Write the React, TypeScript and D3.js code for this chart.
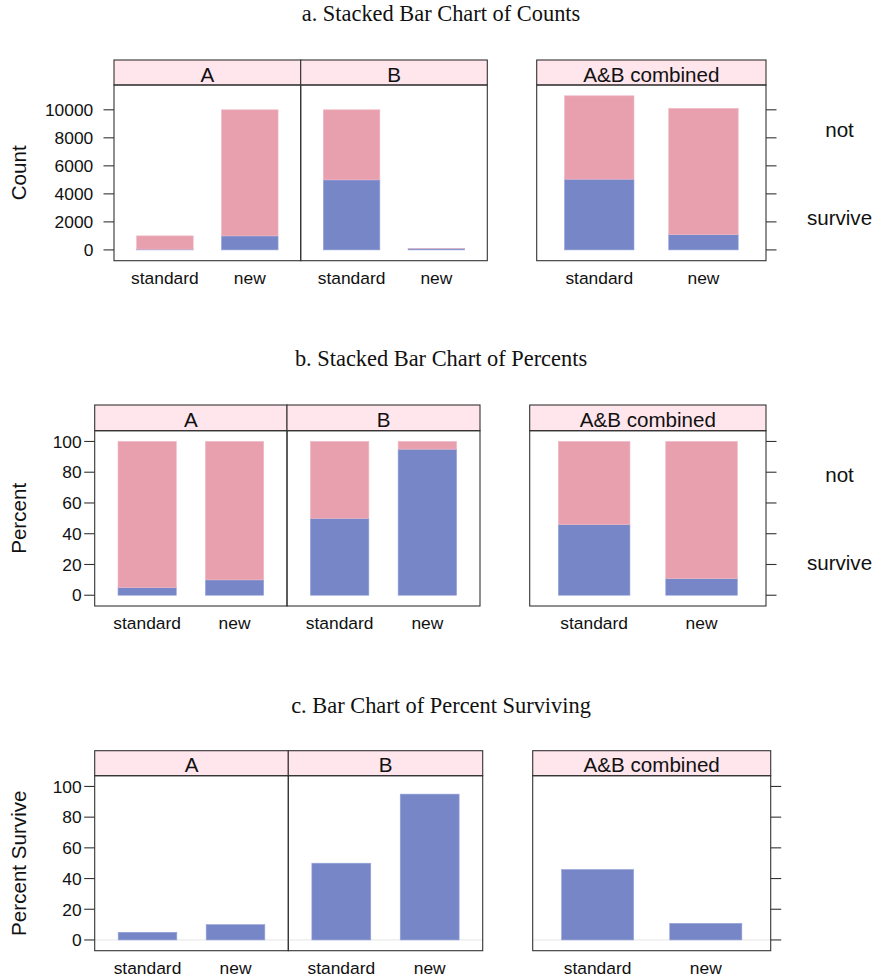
import React from "react";
import * as d3 from "d3";

// ---------- data ----------
const hospitals = ["A", "B"];
const combinedLabel = "A&B combined";
const treatments = ["standard", "new"];
// counts per hospital (rows) x treatment (cols)
const surviveCounts = [
  [50, 1000],
  [5000, 95],
];
const notCounts = [
  [950, 9000],
  [5000, 5],
];
const statusLabels = ["survive", "not"];
const countTicks = [0, 2000, 4000, 6000, 8000, 10000];
const percentTicks = [0, 20, 40, 60, 80, 100];
const titles = [
  "a. Stacked Bar Chart of Counts",
  "b. Stacked Bar Chart of Percents",
  "c. Bar Chart of Percent Surviving",
];
const yTitles = ["Count", "Percent", "Percent Survive"];

// ---------- derived tables ----------
const panelNames = [...hospitals, combinedLabel];
const survAll = [
  ...surviveCounts,
  treatments.map((_, j) => d3.sum(surviveCounts, (r) => r[j])),
];
const notAll = [
  ...notCounts,
  treatments.map((_, j) => d3.sum(notCounts, (r) => r[j])),
];
const countStack = survAll.map((row, i) => row.map((s, j) => [s, notAll[i][j]]));
const pctStack = countStack.map((row) =>
  row.map(([s, n]) => [(100 * s) / (s + n), (100 * n) / (s + n)])
);
const pctSurvive = pctStack.map((row) => row.map(([s]) => [s]));

// ---------- style ----------
const W = 876;
const H = 980;
const PINK = "#E8A0AF";
const BLUE = "#7686C7";
const PINK_EDGE = "#F0B8C4";
const BLUE_EDGE = "#98A4DA";
const FRAME = "#333333";
const STRIP = "#FFE5EC";
const SANS = "'Liberation Sans', Arial, Helvetica, sans-serif";
const SERIF = "'Liberation Serif', 'Times New Roman', serif";
const BIG = 20.6;
const SMALL = 17.4;

type Layout = {
  titleY: number;
  stripTop: number;
  stripBot: number;
  panelBot: number;
  panels: number[][];
  labelEnd: number;
  tickLen: number;
  legendY?: number[];
  refLine?: boolean;
};

const layouts: Layout[] = [
  {
    titleY: 21,
    stripTop: 60,
    stripBot: 85,
    panelBot: 260.7,
    panels: [
      [114, 300.7],
      [300.7, 487.3],
      [536.7, 766],
    ],
    labelEnd: 93.3,
    tickLen: 10.5,
    legendY: [225, 137.3],
  },
  {
    titleY: 366,
    stripTop: 405,
    stripBot: 430.7,
    panelBot: 606,
    panels: [
      [94.7, 287],
      [287, 480],
      [529.7, 766],
    ],
    labelEnd: 81.7,
    tickLen: 10.5,
    legendY: [570, 481.7],
  },
  {
    titleY: 713,
    stripTop: 750.7,
    stripBot: 775.7,
    panelBot: 950.7,
    panels: [
      [94.7, 288.3],
      [288.3, 482.7],
      [532.7, 770.7],
    ],
    labelEnd: 81.7,
    tickLen: 10.5,
    refLine: true,
  },
];

function Section({
  layout,
  data,
  ymax,
  ticks,
  title,
  yTitle,
}: {
  layout: Layout;
  data: number[][][];
  ymax: number;
  ticks: number[];
  title: string;
  yTitle: string;
}) {
  const y = d3
    .scaleLinear()
    .domain([-0.07 * ymax, 1.07 * ymax])
    .range([layout.panelBot, layout.stripBot]);
  const left = layout.panels[0][0];
  const right = layout.panels[layout.panels.length - 1][1];
  const colors = [BLUE, PINK];
  const edges = [BLUE_EDGE, PINK_EDGE];
  const midY = (layout.stripBot + layout.panelBot) / 2;
  return (
    <g>
      <text
        x={441}
        y={layout.titleY}
        textAnchor="middle"
        fontFamily={SERIF}
        fontSize={22.4}
        fill="#111"
      >
        {title}
      </text>
      <text
        transform={`translate(25.5,${midY}) rotate(-90)`}
        textAnchor="middle"
        fontFamily={SANS}
        fontSize={BIG}
        fill="#111"
      >
        {yTitle}
      </text>
      {ticks.map((t) => (
        <g key={"l" + t}>
          <line
            x1={left - layout.tickLen}
            x2={left}
            y1={y(t)}
            y2={y(t)}
            stroke={FRAME}
            strokeWidth={1.1}
          />
          <text
            x={layout.labelEnd}
            y={y(t)}
            dy="0.36em"
            textAnchor="end"
            fontFamily={SANS}
            fontSize={SMALL}
            fill="#111"
          >
            {t}
          </text>
        </g>
      ))}
      {ticks.map((t) => (
        <line
          key={"r" + t}
          x1={right}
          x2={right + layout.tickLen}
          y1={y(t)}
          y2={y(t)}
          stroke={FRAME}
          strokeWidth={1.1}
        />
      ))}
      {layout.panels.map((p, i) => {
        const x = d3.scaleLinear().domain([0.4, 2.6]).range(p);
        const bw = x(1 + 1 / 3) - x(1 - 1 / 3);
        return (
          <g key={i}>
            {layout.refLine && (
              <line
                x1={p[0]}
                x2={p[1]}
                y1={y(0)}
                y2={y(0)}
                stroke="#E6E6E6"
                strokeWidth={1}
              />
            )}
            {data[i].map((segs, j) => {
              let acc = 0;
              return segs.map((v, k) => {
                const y0 = acc;
                acc += v;
                return (
                  <rect
                    key={j + "-" + k}
                    x={x(j + 1) - bw / 2}
                    width={bw}
                    y={y(acc)}
                    height={Math.max(0, y(y0) - y(acc))}
                    fill={colors[k]}
                    stroke={edges[k]}
                    strokeWidth={0.6}
                  />
                );
              });
            })}
            <rect
              x={p[0]}
              y={layout.stripTop}
              width={p[1] - p[0]}
              height={layout.stripBot - layout.stripTop}
              fill={STRIP}
              stroke={FRAME}
              strokeWidth={1.1}
            />
            <text
              x={(p[0] + p[1]) / 2}
              y={layout.stripBot - 3.5}
              textAnchor="middle"
              fontFamily={SANS}
              fontSize={BIG}
              fill="#111"
            >
              {panelNames[i]}
            </text>
            <rect
              x={p[0]}
              y={layout.stripBot}
              width={p[1] - p[0]}
              height={layout.panelBot - layout.stripBot}
              fill="none"
              stroke={FRAME}
              strokeWidth={1.1}
            />
            {treatments.map((t, j) => (
              <text
                key={t}
                x={x(j + 1)}
                y={layout.panelBot + 22.8}
                textAnchor="middle"
                fontFamily={SANS}
                fontSize={SMALL}
                fill="#111"
              >
                {t}
              </text>
            ))}
          </g>
        );
      })}
      {layout.legendY &&
        statusLabels.map((s, k) => (
          <text
            key={s}
            x={839.5}
            y={layout.legendY![k]}
            textAnchor="middle"
            fontFamily={SANS}
            fontSize={BIG}
            fill="#111"
          >
            {s}
          </text>
        ))}
    </g>
  );
}

export default function App() {
  const maxCount = d3.max(countStack.flat(), (d) => d3.sum(d)) as number;
  return (
    <svg
      width={W}
      height={H}
      style={{ position: "absolute", left: 0, top: 0, background: "#fff" }}
    >
      <rect width={W} height={H} fill="#fff" />
      <Section
        layout={layouts[0]}
        data={countStack}
        ymax={maxCount}
        ticks={countTicks}
        title={titles[0]}
        yTitle={yTitles[0]}
      />
      <Section
        layout={layouts[1]}
        data={pctStack}
        ymax={100}
        ticks={percentTicks}
        title={titles[1]}
        yTitle={yTitles[1]}
      />
      <Section
        layout={layouts[2]}
        data={pctSurvive}
        ymax={100}
        ticks={percentTicks}
        title={titles[2]}
        yTitle={yTitles[2]}
      />
    </svg>
  );
}
